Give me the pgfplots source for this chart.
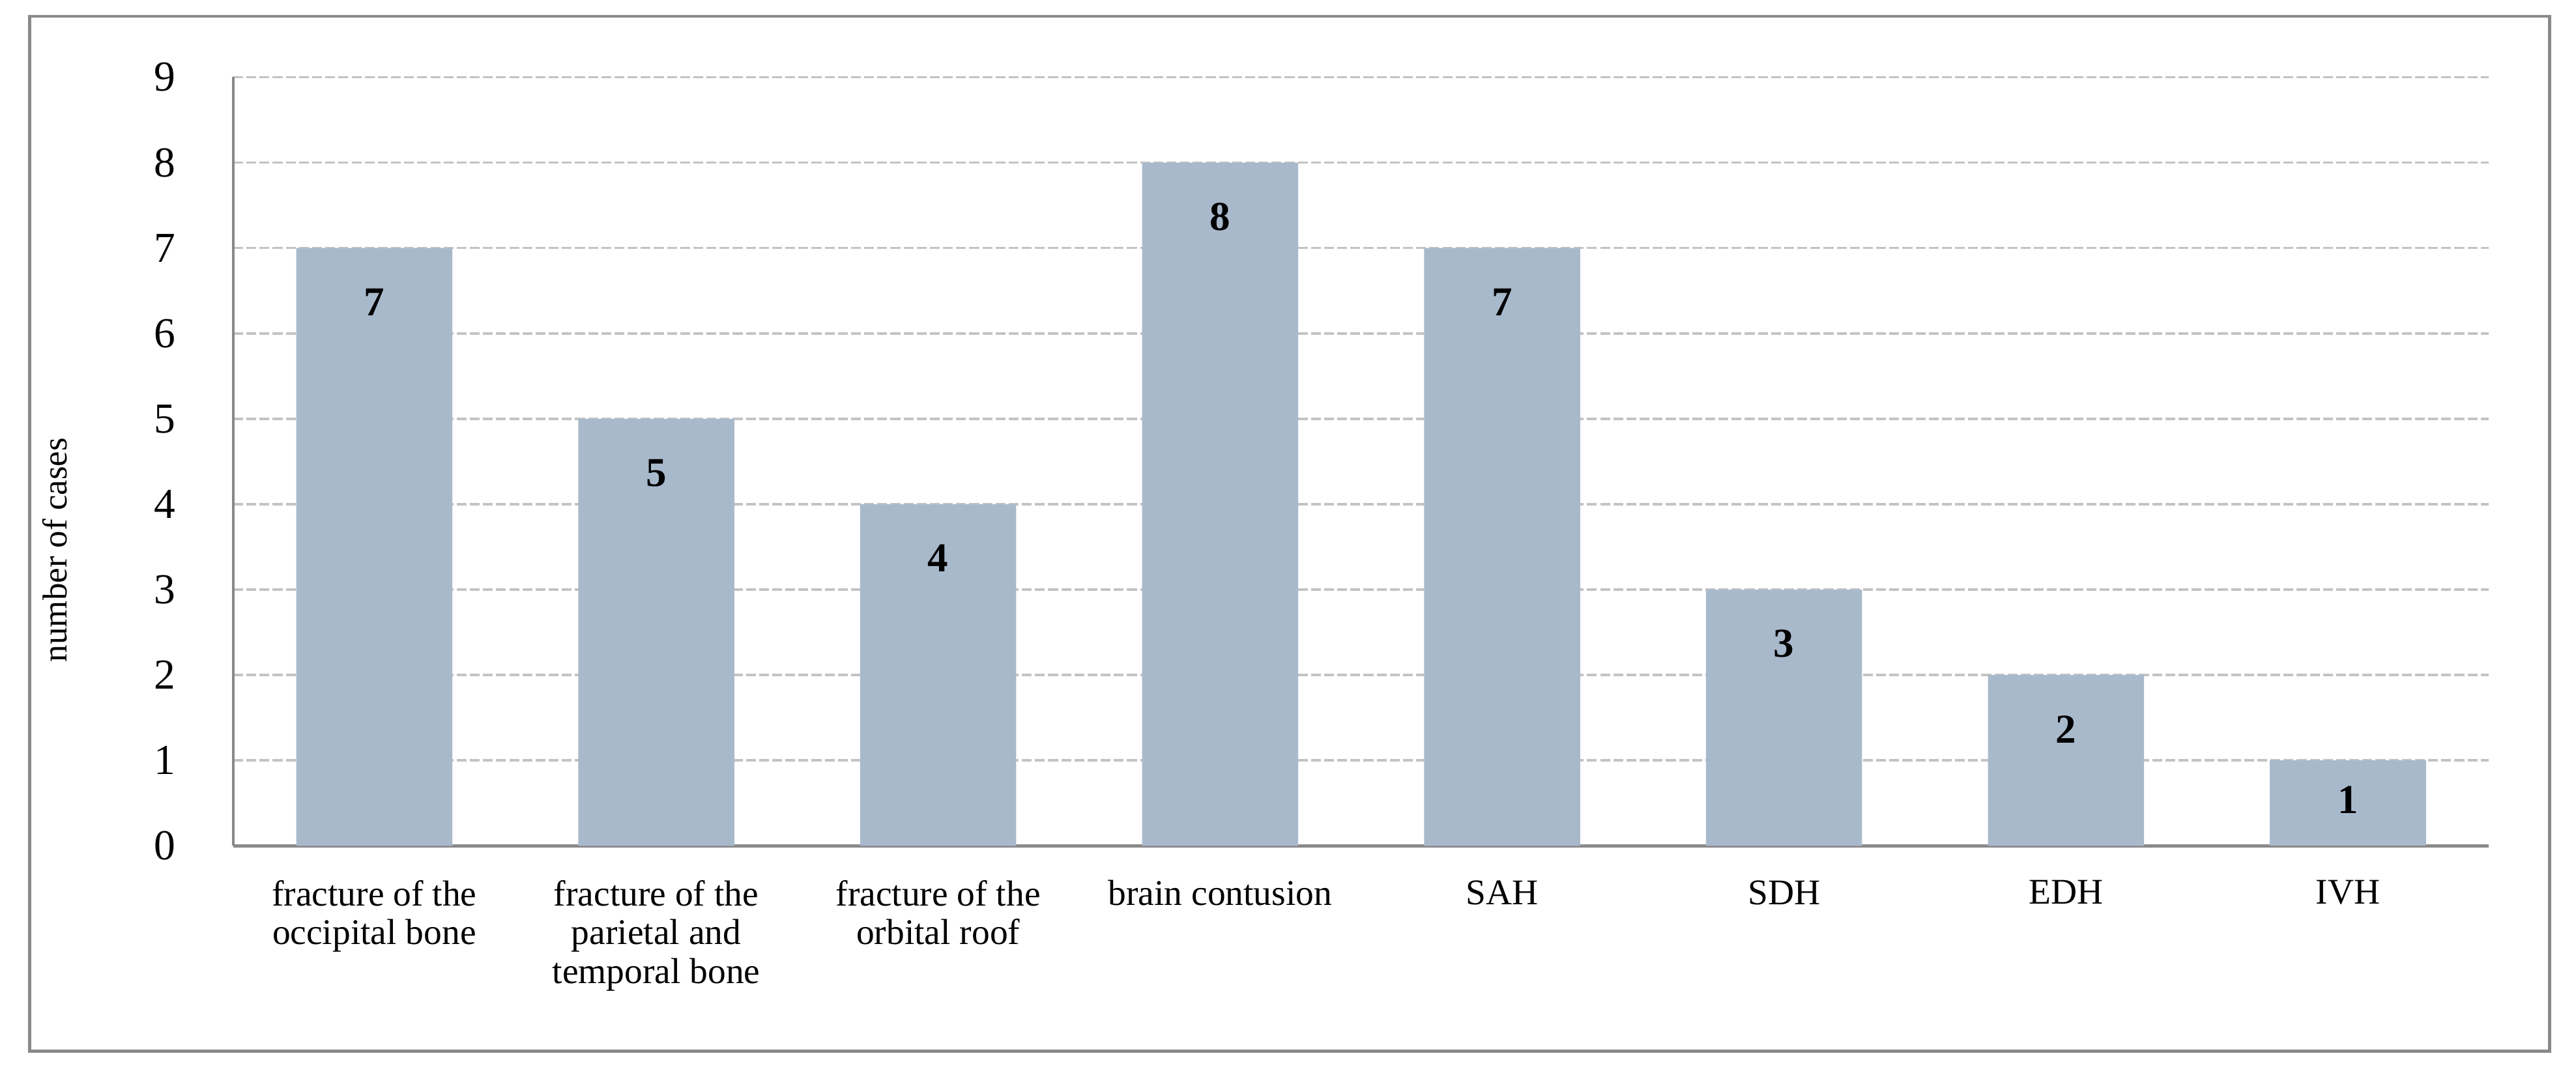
\documentclass[border=0pt]{standalone}
\usepackage{pgfplots}
\pgfplotsset{compat=1.18}
\usepackage{fontspec}
\setmainfont{Liberation Serif}
\definecolor{barc}{RGB}{169,185,204}
\definecolor{axc}{RGB}{137,137,137}
\definecolor{gridc}{RGB}{195,195,195}
\begin{document}
\begin{tikzpicture}
\path[use as bounding box] (0,0) rectangle (784pt,326.5pt);
\draw[axc, line width=0.9pt] (9pt,6.5pt) rectangle (776pt,321.5pt);
\begin{axis}[
  at={(71pt,69pt)}, anchor=south west,
  scale only axis, width=686.5pt, height=234pt,
  ybar, bar width=47.5pt, bar shift=0pt,
  xmin=-0.5, xmax=7.5, ymin=0, ymax=9,
  xtick={0,1,2,3,4,5,6,7},
  xticklabels={{fracture of the\\occipital bone},{fracture of the\\parietal and\\temporal bone},{fracture of the\\orbital roof},{brain contusion},{SAH},{SDH},{EDH},{IVH}},
  ytick={0,1,2,3,4,5,6,7,8,9},
  major tick length=0pt,
  axis x line*=bottom, axis y line*=left,
  axis line style={-, axc, line width=0.9pt},
  ymajorgrids,
  grid style={gridc, line width=0.7pt, dash pattern=on 3pt off 1pt},
  /pgf/number format/assume math mode=true,
  yticklabel style={font=\fontsize{13}{13}\selectfont, anchor=east, xshift=-14pt},
  xticklabel style={font=\fontsize{11}{11.8}\selectfont, align=center, anchor=north, yshift=-7pt},
  every axis y label/.style={at={(axis description cs:-0.079,0.385)}, rotate=90, anchor=center, font=\fontsize{10.5}{12}\selectfont},
  ylabel={number of cases},
  nodes near coords,
  every node near coord/.append style={font=\fontsize{12.5}{12.5}\selectfont\bfseries, anchor=center, yshift=-16.5pt, text=black},
]
\addplot[fill=barc, draw=none] coordinates {(0,7) (1,5) (2,4) (3,8) (4,7) (5,3) (6,2)};
\addplot[fill=barc, draw=none, every node near coord/.append style={yshift=4.5pt}] coordinates {(7,1)};
\end{axis}
\end{tikzpicture}
\end{document}
